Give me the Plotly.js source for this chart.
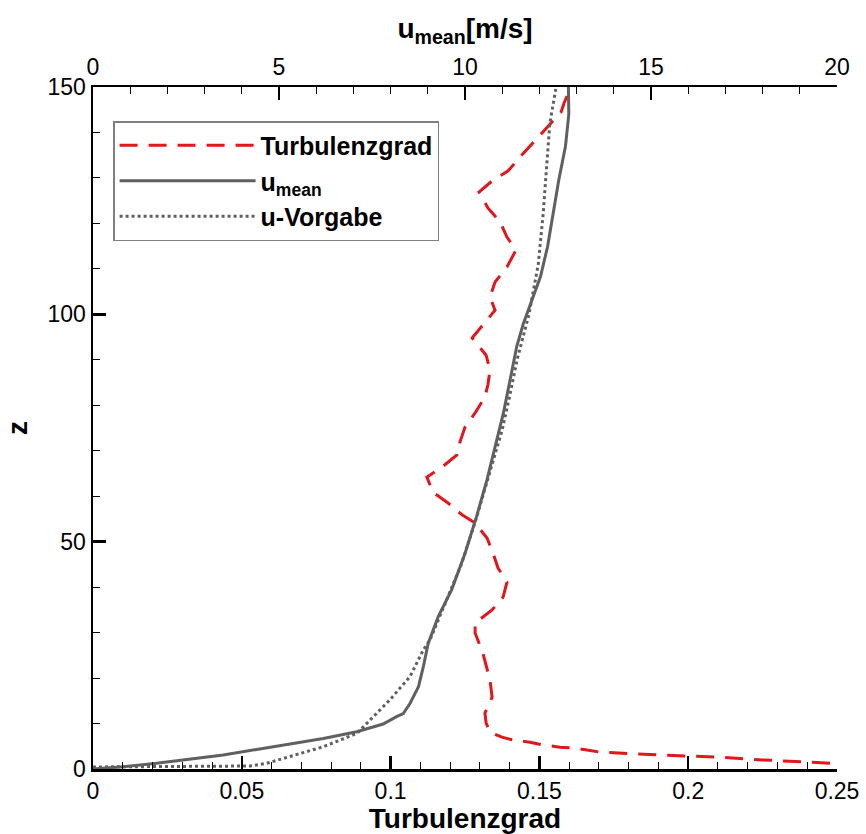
<!DOCTYPE html>
<html>
<head>
<meta charset="utf-8">
<script src="https://cdn.plot.ly/plotly-3.0.1.min.js"></script>
<style>html,body{margin:0;padding:0;background:#fff;}#chart{width:866px;height:834px;}</style>
</head>
<body>
<div id="chart"></div>
<script>
// Turbulenzgrad (bottom axis) vs z
const turbZ = [148, 146.5, 144.5, 141.2, 137.9, 134.6, 131.5, 129.5, 126.9, 123.4, 120.3, 117.0, 114.1, 110.4, 107.1, 103.8, 100.9, 97.6, 94.8, 91.0, 87.7, 84.5, 81.8, 78.3, 75.2, 71.9, 69.1, 66.4, 64.2, 60.9, 58.5, 55.9, 54.1, 50.8, 47.5, 44.2, 41.1, 37.8, 35.0, 32.1, 29.9, 25.5, 22.4, 19.6, 15.8, 12.3, 10.1, 8.1, 7.0, 6.4, 5.9, 5.3, 4.8, 4.6, 4.2, 3.7, 3.1, 2.6, 2.0, 1.5, 1.2];
const turbVal = [0.1593, 0.1583, 0.1573, 0.1526, 0.1482, 0.1435, 0.1394, 0.1344, 0.1297, 0.1327, 0.1368, 0.1391, 0.1421, 0.1391, 0.1351, 0.1334, 0.1351, 0.1310, 0.1274, 0.1321, 0.1334, 0.1327, 0.1317, 0.1284, 0.1250, 0.1233, 0.1223, 0.1173, 0.1122, 0.1142, 0.1193, 0.1240, 0.1284, 0.1324, 0.1344, 0.1361, 0.1391, 0.1378, 0.1341, 0.1284, 0.1284, 0.1310, 0.1324, 0.1334, 0.1341, 0.1317, 0.1321, 0.1334, 0.1374, 0.1411, 0.1468, 0.1512, 0.1569, 0.1613, 0.1660, 0.1704, 0.19, 0.21, 0.225, 0.24, 0.25];

// u_mean (top axis) vs z
const umeanZ = [0, 0.5, 1.25, 2.1, 3.1, 4.3, 5.5, 6.7, 8.2, 9.9, 11.5, 12.2, 14.4, 18.1, 22.5, 27.6, 33.5, 39.4, 47.4, 55.5, 63.6, 72.4, 78.2, 85.5, 92.9, 98, 103.9, 108.3, 114.9, 122, 129.5, 136.9, 144, 150];
const umeanVal = [0, 0.81, 1.71, 2.61, 3.5, 4.4, 5.3, 6.19, 7.09, 7.8, 8.16, 8.34, 8.52, 8.75, 8.88, 9.01, 9.28, 9.64, 10.0, 10.31, 10.59, 10.85, 11.03, 11.21, 11.39, 11.57, 11.84, 12.03, 12.22, 12.37, 12.52, 12.7, 12.79, 12.78];

// u-Vorgabe (top axis) vs z
const uvorgZ = [0.45, 0.5, 0.66, 1.25, 2.7, 4.9, 7.8, 11.5, 15.2, 20.3, 26.2, 28.4, 35, 45, 55, 65, 74.6, 82, 90, 100, 111, 122, 133, 142, 150];
const uvorgVal = [0, 4.0, 4.22, 4.67, 5.3, 6.19, 7.09, 7.53, 7.98, 8.52, 8.88, 9.06, 9.4, 9.9, 10.3, 10.65, 11.0, 11.2, 11.4, 11.72, 11.97, 12.1, 12.2, 12.28, 12.45];

const turbTicks = [0, 0.05, 0.1, 0.15, 0.2, 0.25];
const turbTickText = ['0', '0.05', '0.1', '0.15', '0.2', '0.25'];
const uTicks = [0, 5, 10, 15, 20];
const zTicks = [0, 50, 100, 150];

const tickFont = {family: 'Liberation Sans, Arial, sans-serif', size: 23, color: '#000'};
const boldFont = {family: 'Liberation Sans, Arial, sans-serif', size: 28, color: '#000'};

const traces = [
  {x: turbVal, y: turbZ, xaxis: 'x', yaxis: 'y', mode: 'lines', name: '<b>Turbulenzgrad</b>',
   line: {color: '#e3161b', width: 3, dash: '18px,11px'}},
  {x: umeanVal, y: umeanZ, xaxis: 'x2', yaxis: 'y', mode: 'lines', name: '<b>u<sub>mean</sub></b>',
   line: {color: '#606060', width: 3}},
  {x: uvorgVal, y: uvorgZ, xaxis: 'x2', yaxis: 'y', mode: 'lines', name: '<b>u-Vorgabe</b>',
   line: {color: '#606060', width: 3, dash: 'dot'}}
];

const axBase = {showgrid: false, zeroline: false, showline: true, linecolor: '#000', linewidth: 2.5,
  ticks: 'inside', ticklen: 13, tickwidth: 2.5, tickcolor: '#000', tickfont: tickFont};

const layout = {
  width: 866, height: 834,
  margin: {l: 93, r: 29, t: 87, b: 65, pad: 0},
  paper_bgcolor: '#fff', plot_bgcolor: '#fff',
  showlegend: true,
  legend: {x: 0.027, y: 0.95, xanchor: 'left', yanchor: 'top', bgcolor: '#fff',
    bordercolor: '#808080', borderwidth: 1.5, itemwidth: 136,
    font: {family: 'Liberation Sans, Arial, sans-serif', size: 25, color: '#000'},
    tracegroupgap: 0},
  xaxis: Object.assign({}, axBase, {range: [0, 0.25], tickvals: turbTicks, ticktext: turbTickText,
    minor: {dtick: 0.01, ticks: 'inside', ticklen: 7, tickwidth: 1, tickcolor: '#000'},
    title: {text: '<b>Turbulenzgrad</b>', font: boldFont, standoff: 2}, anchor: 'y'}),
  xaxis2: Object.assign({}, axBase, {range: [0, 20], tickvals: uTicks, overlaying: 'x', side: 'top', anchor: 'y',
    minor: {dtick: 1, ticks: 'inside', ticklen: 7, tickwidth: 1, tickcolor: '#000'},
    title: {text: '<b>u<sub>mean</sub>[m/s]</b>', font: boldFont, standoff: 8}}),
  yaxis: Object.assign({}, axBase, {range: [0, 150], tickvals: zTicks,
    minor: {dtick: 10, ticks: 'inside', ticklen: 7, tickwidth: 1, tickcolor: '#000'},
    title: {text: '<b>z</b>', font: boldFont, standoff: 12}})
};

Plotly.newPlot('chart', traces, layout, {displayModeBar: false, staticPlot: true});
</script>
</body>
</html>
